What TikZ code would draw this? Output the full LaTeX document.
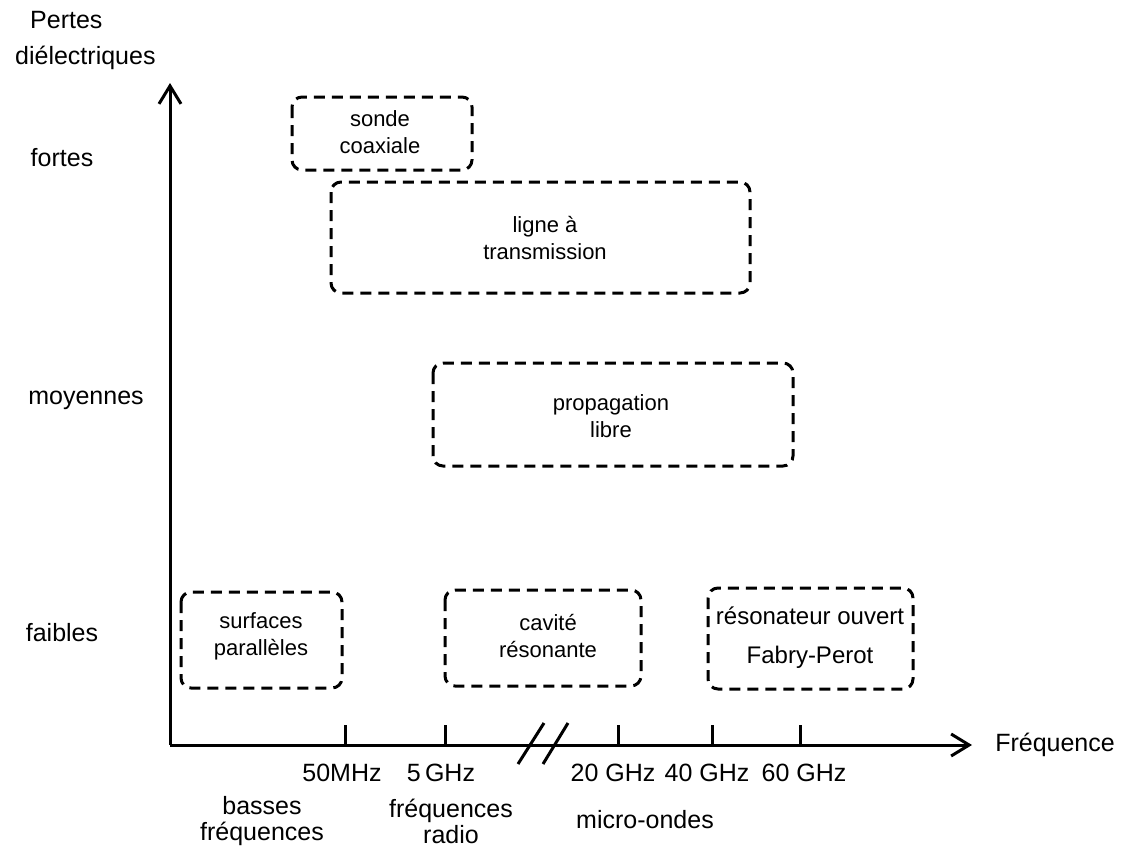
\documentclass[tikz,border=0pt]{standalone}
\usepackage{fontspec}
\setmainfont{Liberation Sans}
\usetikzlibrary{arrows.meta}
\begin{document}
\begin{tikzpicture}[x=1pt,y=-1pt,
  lbl/.style={font=\fontsize{25}{26}\selectfont, inner sep=0pt, align=center},
  boxtxt/.style={font=\fontsize{22}{27}\selectfont, inner sep=0pt, align=center},
  fptxt/.style={font=\fontsize{24}{27}\selectfont, inner sep=0pt, align=center},
  dbox/.style={draw, line width=3pt, dash pattern=on 11pt off 7pt, rounded corners=10pt},
  axis/.style={line width=3pt, -{Straight Barb[length=18pt,width=22pt,line width=3pt]}},
  tick/.style={line width=3pt}]
\useasboundingbox (0,0) rectangle (1121,852);
\fill[white] (0,0) rectangle (1121,852);
% axes
\coordinate (O) at (170,745);
\coordinate (ytop) at (170,83);
\coordinate (xend) at (972,745);
\draw[axis] (O) -- (ytop);
\draw[axis] (O) -- (xend);
% break marks
\coordinate (b1a) at (518,764); \coordinate (b1b) at (544,723);
\coordinate (b2a) at (543,764); \coordinate (b2b) at (568,723);
\draw[tick] (b1a) -- (b1b);
\draw[tick] (b2a) -- (b2b);
% ticks
\foreach \n/\x in {t50/345,t5/445,t20/618,t40/712,t60/800}{
  \coordinate (\n) at (\x,745);
  \draw[tick] (\n) -- ++(0,-20);
}
% axis labels
\node[lbl, anchor=west] (pertes) at (30,20) {Pertes};
\node[lbl, anchor=west] (diel) at (15,58) {diélectriques};
\node[lbl] (fortes) at (62,158) {fortes};
\node[lbl] (moy) at (86,400) {moyennes};
\node[lbl] (faibles) at (62,633) {faibles};
\node[lbl] (freq) at (1055,745) {Fréquence};
% tick labels
\node[lbl] (l50) at (342,773) {50MHz};
\node[lbl] (l5) at (441,773) {5\,GHz};
\node[lbl] (l20) at (613,773) {20 GHz};
\node[lbl] (l40) at (707,773) {40 GHz};
\node[lbl] (l60) at (804,773) {60 GHz};
\node[lbl] (bf) at (262,821) {basses\\fréquences};
\node[lbl] (fr) at (451,821) {fréquences\\radio};
\node[lbl] (mo) at (645,820) {micro-ondes};
% boxes
\draw[dbox] (292,97) rectangle (472,170);
\node[boxtxt] (sonde) at (380,132) {sonde\\coaxiale};
\draw[dbox] (331,182) rectangle (750,293);
\node[boxtxt] (ligne) at (545,238) {ligne à\\transmission};
\draw[dbox] (433,363) rectangle (793,466);
\node[boxtxt] (prop) at (611,416) {propagation\\libre};
\draw[dbox] (181,592) rectangle (342,688);
\node[boxtxt] (surf) at (261,636) {surfaces\\parallèles};
\draw[dbox] (445,590) rectangle (641,686);
\node[boxtxt] (cav) at (548,636) {cavité\\résonante};
\draw[dbox] (708,588) rectangle (913,689);
\node[fptxt] (reso) at (810,616) {résonateur ouvert};
\node[fptxt] (fp) at (810,657) {Fabry-Perot};
\end{tikzpicture}
\end{document}
